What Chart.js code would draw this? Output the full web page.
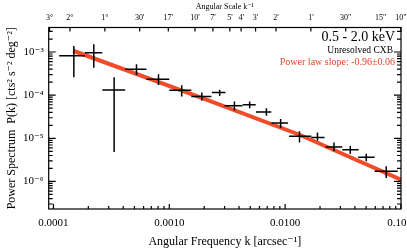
<!DOCTYPE html>
<html>
<head>
<meta charset="utf-8">
<script src="https://cdn.jsdelivr.net/npm/chart.js@4/dist/chart.umd.min.js"></script>
<style>
  body { margin: 0; background: #fff; }
  canvas { display: block; }
</style>
</head>
<body>
<canvas id="psChart" width="407" height="252"></canvas>
<script>
// binned power spectrum, k in arcsec^-1, P(k) in cts^2 s^-2 deg^-2
const kVals = [1.5e-4, 2.23e-4, 3.34e-4, 5.21e-4, 8.07e-4, 1.28e-3, 1.91e-3, 2.72e-3, 3.65e-3,
               4.94e-3, 6.89e-3, 9.14e-3, 1.33e-2, 1.90e-2, 2.64e-2, 3.65e-2, 5.01e-2, 7.45e-2];
const kLo   = [1.12e-4, 1.87e-4, 2.64e-4, 4.16e-4, 6.35e-4, 1.0e-3, 1.55e-3, 2.33e-3, 3.0e-3,
               4.3e-3, 5.6e-3, 7.6e-3, 1.08e-2, 1.68e-2, 2.23e-2, 3.11e-2, 4.26e-2, 5.92e-2];
const kHi   = [1.87e-4, 2.64e-4, 4.16e-4, 6.35e-4, 1.0e-3, 1.55e-3, 2.31e-3, 3.05e-3, 4.28e-3,
               5.57e-3, 7.6e-3, 1.06e-2, 1.68e-2, 2.19e-2, 3.11e-2, 4.31e-2, 5.92e-2, 9.37e-2];
const pVals = [8.2e-4, 9.6e-4, 1.32e-4, 3.98e-4, 2.34e-4, 1.30e-4, 9.3e-5, 1.15e-4, 5.66e-5,
               5.97e-5, 4.05e-5, 2.25e-5, 1.11e-5, 1.05e-5, 6.3e-6, 5.46e-6, 3.62e-6, 1.72e-6];
const pLo   = [2.6e-4, 4.3e-4, 4.8e-6, 2.94e-4, 1.73e-4, 9.3e-5, 7.4e-5, 9.6e-5, 4.4e-5,
               5.0e-5, 3.33e-5, 1.73e-5, 8.0e-6, 8.8e-6, 5.0e-6, 4.34e-6, 2.93e-6, 1.21e-6];
const pHi   = [1.37e-3, 1.51e-3, 2.6e-4, 5.2e-4, 3.05e-4, 1.70e-4, 1.15e-4, 1.33e-4, 7.1e-5,
               7.1e-5, 5.0e-5, 2.79e-5, 1.45e-5, 1.37e-5, 8.0e-6, 6.7e-6, 4.4e-6, 2.24e-6];

// power law fit
const fitK = [1.48e-4, 1.83e-3, 1.33e-2, 0.1];
const fitP = [1.07e-3, 9.0e-5, 1.21e-5, 1.1e-6];

// axis ticks
const xTickValues = [1e-4, 1e-3, 1e-2, 1e-1];
const xTickLabels = ['0.0001', '0.0010', '0.0100', '0.10   '];
const yTickValues = [1e-3, 1e-4, 1e-5, 1e-6];
const yTickLabels = ['10\u207B\u00B3', '10\u207B\u2074', '10\u207B\u2075', '10\u207B\u2076'];
const scaleArcsec = [10800, 7200, 3600, 1800, 1020, 600, 420, 300, 240, 180, 120, 60, 30, 15, 10];
const scaleLabels = ['3\u00B0', '2\u00B0', '1\u00B0', "30'", "17'", "10'", "7'", "5'", "4'", "3'", "2'", "1'", '30"', '15"', '10"'];

const xMin = 9.1e-5, xMax = 0.1;
const yMin = 2.3e-7, yMax = 3.7e-3;
const serif = '"Liberation Serif", "DejaVu Serif", serif';

function near(a, b) {
    return Math.abs(Math.log10(a) - Math.log10(b)) < 1e-6;
}
function isDecade(v) {
    return near(v, Math.pow(10, Math.round(Math.log10(v))));
}
function logTicks(min, max) {
    const out = [];
    for (let e = Math.floor(Math.log10(min)); e <= Math.ceil(Math.log10(max)); e++) {
        for (let m = 1; m <= 9; m++) {
            const v = m * Math.pow(10, e);
            if (v >= min * 0.999999 && v <= max * 1.000001) out.push({value: v});
        }
    }
    return out;
}

const hBars = [];
const vBars = [];
kVals.forEach((k, i) => {
    hBars.push({x: kLo[i], y: pVals[i]}, {x: kHi[i], y: pVals[i]}, {x: k, y: null});
    vBars.push({x: k, y: pLo[i]}, {x: k, y: pHi[i]}, {x: k, y: null});
});

const frameTicks = {
    id: 'frameTicks',
    afterDatasetsDraw(chart) {
        const {ctx, chartArea: a, scales} = chart;
        ctx.save();
        ctx.strokeStyle = '#000';
        ctx.lineWidth = 1.2;
        ctx.strokeRect(a.left, a.top, a.right - a.left, a.bottom - a.top);
        ctx.beginPath();
        scales.y.ticks.forEach(t => {
            const py = scales.y.getPixelForValue(t.value);
            const len = isDecade(t.value) ? 7 : 4;
            ctx.moveTo(a.left, py); ctx.lineTo(a.left + len, py);
            ctx.moveTo(a.right, py); ctx.lineTo(a.right - len, py);
        });
        scales.x.ticks.forEach(t => {
            const px = scales.x.getPixelForValue(t.value);
            const len = isDecade(t.value) ? 5 : 3;
            ctx.moveTo(px, a.bottom); ctx.lineTo(px, a.bottom - len);
        });
        scales.x2.ticks.forEach(t => {
            const px = scales.x2.getPixelForValue(t.value);
            ctx.moveTo(px, a.top); ctx.lineTo(px, a.top + 4);
        });
        ctx.stroke();

        ctx.textAlign = 'right';
        ctx.textBaseline = 'middle';
        ctx.fillStyle = '#000';
        ctx.font = '14px ' + serif;
        ctx.fillText('0.5 - 2.0 keV', 395, 37);
        ctx.font = '9.5px ' + serif;
        ctx.fillText('Unresolved CXB', 393, 50);
        ctx.fillStyle = '#e8432b';
        ctx.font = '10px ' + serif;
        ctx.fillText('Power law slope: -0.96\u00B10.06', 395, 62);
        ctx.restore();
    }
};

const ctx = document.getElementById('psChart').getContext('2d');
new Chart(ctx, {
    type: 'line',
    data: {
        datasets: [
            {
                label: 'fit',
                data: fitK.map((k, i) => ({x: k, y: fitP[i]})),
                borderColor: 'rgb(240, 76, 42)',
                borderWidth: 4,
                pointRadius: 0,
                order: 2
            },
            {
                label: 'k error',
                data: hBars,
                borderColor: '#000',
                borderWidth: 1.5,
                pointRadius: 0,
                spanGaps: false,
                order: 1
            },
            {
                label: 'P error',
                data: vBars,
                borderColor: '#000',
                borderWidth: 1.5,
                pointRadius: 0,
                spanGaps: false,
                order: 1
            }
        ]
    },
    options: {
        responsive: false,
        animation: false,
        layout: { padding: { left: 0, right: 6, top: 0, bottom: 0 } },
        plugins: {
            legend: { display: false },
            tooltip: { enabled: false }
        },
        scales: {
            x: {
                type: 'logarithmic',
                position: 'bottom',
                min: xMin,
                max: xMax,
                grid: { display: false, drawTicks: false },
                border: { display: false },
                afterBuildTicks: scale => { scale.ticks = logTicks(xMin, xMax); },
                afterFit: scale => { scale.height = 43; scale.paddingLeft = 0; scale.paddingRight = 0; },
                ticks: {
                    autoSkip: false,
                    maxRotation: 0,
                    padding: 8,
                    color: '#000',
                    font: { family: serif, size: 11 },
                    callback: value => {
                        const i = xTickValues.findIndex(v => near(v, value));
                        return i >= 0 ? xTickLabels[i] : '';
                    }
                },
                title: {
                    display: true,
                    text: 'Angular Frequency k [arcsec\u207B\u00B9]',
                    color: '#000',
                    font: { family: serif, size: 12 },
                    padding: { top: 0, bottom: 3 }
                }
            },
            x2: {
                type: 'logarithmic',
                position: 'top',
                min: xMin,
                max: xMax,
                grid: { display: false, drawTicks: false },
                border: { display: false },
                afterBuildTicks: scale => { scale.ticks = scaleArcsec.map(s => ({value: 1 / s})); },
                afterFit: scale => { scale.height = 27.5; scale.paddingLeft = 0; scale.paddingRight = 0; },
                ticks: {
                    autoSkip: false,
                    maxRotation: 0,
                    padding: 5,
                    color: '#000',
                    font: { family: serif, size: 8 },
                    callback: (value, index) => scaleLabels[index]
                },
                title: {
                    display: true,
                    text: 'Angular Scale k\u207B\u00B9',
                    color: '#000',
                    font: { family: serif, size: 8 },
                    padding: { top: 2, bottom: 0 }
                }
            },
            y: {
                type: 'logarithmic',
                position: 'left',
                min: yMin,
                max: yMax,
                grid: { display: false, drawTicks: false },
                border: { display: false },
                afterBuildTicks: scale => { scale.ticks = logTicks(yMin, yMax); },
                afterFit: scale => { scale.width = 48.7; },
                ticks: {
                    autoSkip: false,
                    padding: 5,
                    color: '#000',
                    font: { family: serif, size: 11 },
                    callback: value => {
                        const i = yTickValues.findIndex(v => near(v, value));
                        return i >= 0 ? yTickLabels[i] : '';
                    }
                },
                title: {
                    display: true,
                    text: 'Power Spectrum  P(k) [cts\u00B2 s\u207B\u00B2 deg\u207B\u00B2]',
                    color: '#000',
                    font: { family: serif, size: 12 },
                    padding: { top: 5, bottom: 0 }
                }
            }
        }
    },
    plugins: [frameTicks]
});
</script>
</body>
</html>
